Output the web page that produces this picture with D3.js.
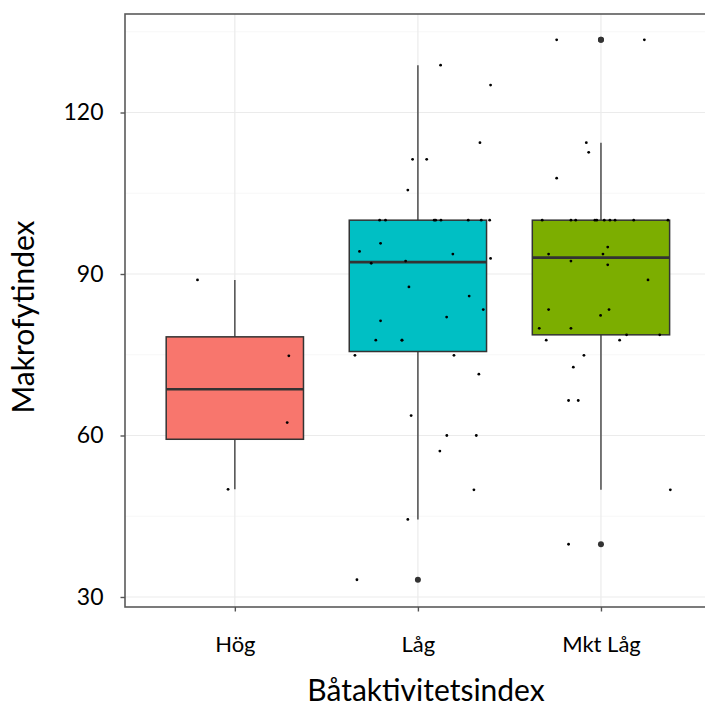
<!DOCTYPE html>
<html>
<head>
<meta charset="utf-8">
<script src="https://d3js.org/d3.v7.min.js"></script>
<style>
    body { margin: 0; background: #fff; }
    text { font-family: Lato, sans-serif; fill: #000; }
    .grid-major { stroke: #ebebeb; stroke-width: 1.2; }
    .grid-minor { stroke: #f3f3f3; stroke-width: 0.7; }
    .whisker { stroke: #4d4d4d; stroke-width: 1.5; }
    .box { stroke: #333; stroke-width: 1.5; }
    .median { stroke: #333; stroke-width: 2.6; }
    .outlier { fill: #333; }
    .dot { fill: #000; }
    .border { fill: none; stroke: #5a5a5a; stroke-width: 1.6; }
</style>
</head>
<body>
<svg id="chart" width="705" height="707"></svg>
<script>
    // categories and colours (ggplot default hues)
    const categories = ["Hög", "Låg", "Mkt Låg"];
    const fills = ["#F8766D", "#00BFC4", "#7CAE00"];

    // values; jitter is the horizontal offset in category widths
    const hogValues = [88.9, 74.8, 62.4, 50.0];
    const hogJitter = [-0.204, 0.295, 0.286, -0.037];

    const lagValues = [128.8, 125.1, 114.4, 111.3, 111.3, 105.6,
        100, 100, 100, 100, 100, 100, 100, 100,
        95.7, 94.2, 93.7, 92.9, 92.0, 92.4, 87.6, 85.9, 83.4, 82.0, 81.3,
        77.7, 77.7, 77.7, 74.9, 74.9, 71.4, 63.7, 60.0, 60.0, 57.1, 49.9, 44.4, 33.2];
    const lagJitter = [0.124, 0.397, 0.339, -0.029, 0.048, -0.055,
        -0.209, -0.177, 0.089, 0.097, 0.126, 0.275, 0.346, 0.392,
        -0.204, -0.319, 0.191, 0.397, -0.255, -0.067, -0.049, 0.280, 0.357, 0.157, -0.204,
        -0.230, -0.087, -0.087, -0.344, 0.197, 0.333, -0.037, 0.158, 0.319, 0.120, 0.306, -0.055, -0.333];

    const mktValues = [133.5, 133.5, 114.4, 112.6, 107.8,
        100, 100, 100, 100, 100, 100, 100, 100, 100, 100,
        95.0, 93.7, 93.7, 92.4, 91.7, 88.9, 83.4, 83.4, 82.3, 79.9, 79.9,
        78.7, 78.7, 77.7, 77.7, 74.9, 72.7, 66.5, 66.5, 49.9, 39.8];
    const mktJitter = [-0.242, 0.237, -0.080, -0.067, -0.242,
        -0.321, -0.164, -0.138, -0.033, -0.023, 0.018, 0.049, 0.077, 0.179, 0.366,
        0.037, -0.286, 0.011, -0.164, 0.037, 0.257, -0.286, 0.044, -0.002, -0.337, -0.164,
        0.140, 0.321, -0.299, 0.102, -0.093, -0.151, -0.177, -0.124, 0.379, -0.177];

    const yTicks = [30, 60, 90, 120];
    const yMinorTicks = [45, 75, 105, 135];
    const yDomain = [28.14, 138.3];

    const groups = [
        { key: categories[0], values: hogValues, jitter: hogJitter, fill: fills[0] },
        { key: categories[1], values: lagValues, jitter: lagJitter, fill: fills[1] },
        { key: categories[2], values: mktValues, jitter: mktJitter, fill: fills[2] }
    ];

    const panel = { left: 125, top: 14, right: 710.8, bottom: 607 };

    function boxStats(vals) {
        const s = vals.slice().sort(d3.ascending);
        const q1 = d3.quantileSorted(s, 0.25);
        const med = d3.quantileSorted(s, 0.5);
        const q3 = d3.quantileSorted(s, 0.75);
        const iqr = q3 - q1;
        const lo = d3.min(s.filter(v => v >= q1 - 1.5 * iqr));
        const hi = d3.max(s.filter(v => v <= q3 + 1.5 * iqr));
        return { q1, med, q3, lo, hi, outliers: s.filter(v => v < lo || v > hi) };
    }

    const svg = d3.select("#chart");

    const x = d3.scalePoint()
        .domain(categories)
        .range([panel.left, panel.right])
        .padding(0.6);
    const y = d3.scaleLinear()
        .domain(yDomain)
        .range([panel.bottom, panel.top]);
    const step = x.step();
    const boxW = 0.75 * step;

    // grid
    const grid = svg.append("g");
    grid.selectAll("line.minor").data(yMinorTicks).enter().append("line")
        .attr("class", "grid-minor")
        .attr("x1", panel.left).attr("x2", panel.right)
        .attr("y1", d => y(d)).attr("y2", d => y(d));
    grid.selectAll("line.major").data(yTicks).enter().append("line")
        .attr("class", "grid-major")
        .attr("x1", panel.left).attr("x2", panel.right)
        .attr("y1", d => y(d)).attr("y2", d => y(d));
    grid.selectAll("line.vmajor").data(categories).enter().append("line")
        .attr("class", "grid-major")
        .attr("x1", d => x(d)).attr("x2", d => x(d))
        .attr("y1", panel.top).attr("y2", panel.bottom);

    // boxplots
    groups.forEach(g => {
        const st = boxStats(g.values);
        const cx = x(g.key);
        const gb = svg.append("g");
        gb.append("line").attr("class", "whisker")
            .attr("x1", cx).attr("x2", cx)
            .attr("y1", y(st.hi)).attr("y2", y(st.q3));
        gb.append("line").attr("class", "whisker")
            .attr("x1", cx).attr("x2", cx)
            .attr("y1", y(st.q1)).attr("y2", y(st.lo));
        gb.append("rect").attr("class", "box")
            .attr("x", cx - boxW / 2).attr("width", boxW)
            .attr("y", y(st.q3)).attr("height", y(st.q1) - y(st.q3))
            .attr("fill", g.fill);
        gb.append("line").attr("class", "median")
            .attr("x1", cx - boxW / 2).attr("x2", cx + boxW / 2)
            .attr("y1", y(st.med)).attr("y2", y(st.med));
        gb.selectAll("circle").data(st.outliers).enter().append("circle")
            .attr("class", "outlier")
            .attr("cx", cx).attr("cy", d => y(d)).attr("r", 3);
    });

    // jittered points
    groups.forEach(g => {
        svg.append("g").selectAll("circle")
            .data(g.values.map((v, i) => ({ v, j: g.jitter[i] })))
            .enter().append("circle")
            .attr("class", "dot")
            .attr("cx", d => x(g.key) + d.j * step)
            .attr("cy", d => y(d.v))
            .attr("r", 1.4);
    });

    // panel border
    svg.append("rect").attr("class", "border")
        .attr("x", panel.left).attr("y", panel.top)
        .attr("width", panel.right - panel.left)
        .attr("height", panel.bottom - panel.top);

    // axes
    const yAxis = svg.append("g")
        .attr("transform", `translate(${panel.left},0)`)
        .call(d3.axisLeft(y).tickValues(yTicks).tickSize(4.5).tickPadding(17));
    yAxis.select(".domain").remove();
    yAxis.selectAll("line").attr("stroke", "#555").attr("stroke-width", 1.4);
    yAxis.selectAll("text")
        .style("font-family", "Lato, sans-serif").style("font-size", "23px").attr("fill", "#000");

    const xAxis = svg.append("g")
        .attr("transform", `translate(0,${panel.bottom})`)
        .call(d3.axisBottom(x).tickSize(4.5));
    xAxis.select(".domain").remove();
    xAxis.selectAll("line").attr("stroke", "#555").attr("stroke-width", 1.4);
    xAxis.selectAll("text")
        .attr("y", 45).attr("dy", 0)
        .style("font-family", "Lato, sans-serif").style("font-size", "22px").attr("fill", "#000");

    // axis titles
    svg.append("text")
        .attr("x", 426).attr("y", 701)
        .attr("text-anchor", "middle")
        .style("font-size", "30px")
        .text("Båtaktivitetsindex");
    svg.append("text")
        .attr("transform", "translate(34,317) rotate(-90)")
        .attr("text-anchor", "middle")
        .style("font-size", "30px")
        .text("Makrofytindex");
</script>
</body>
</html>
